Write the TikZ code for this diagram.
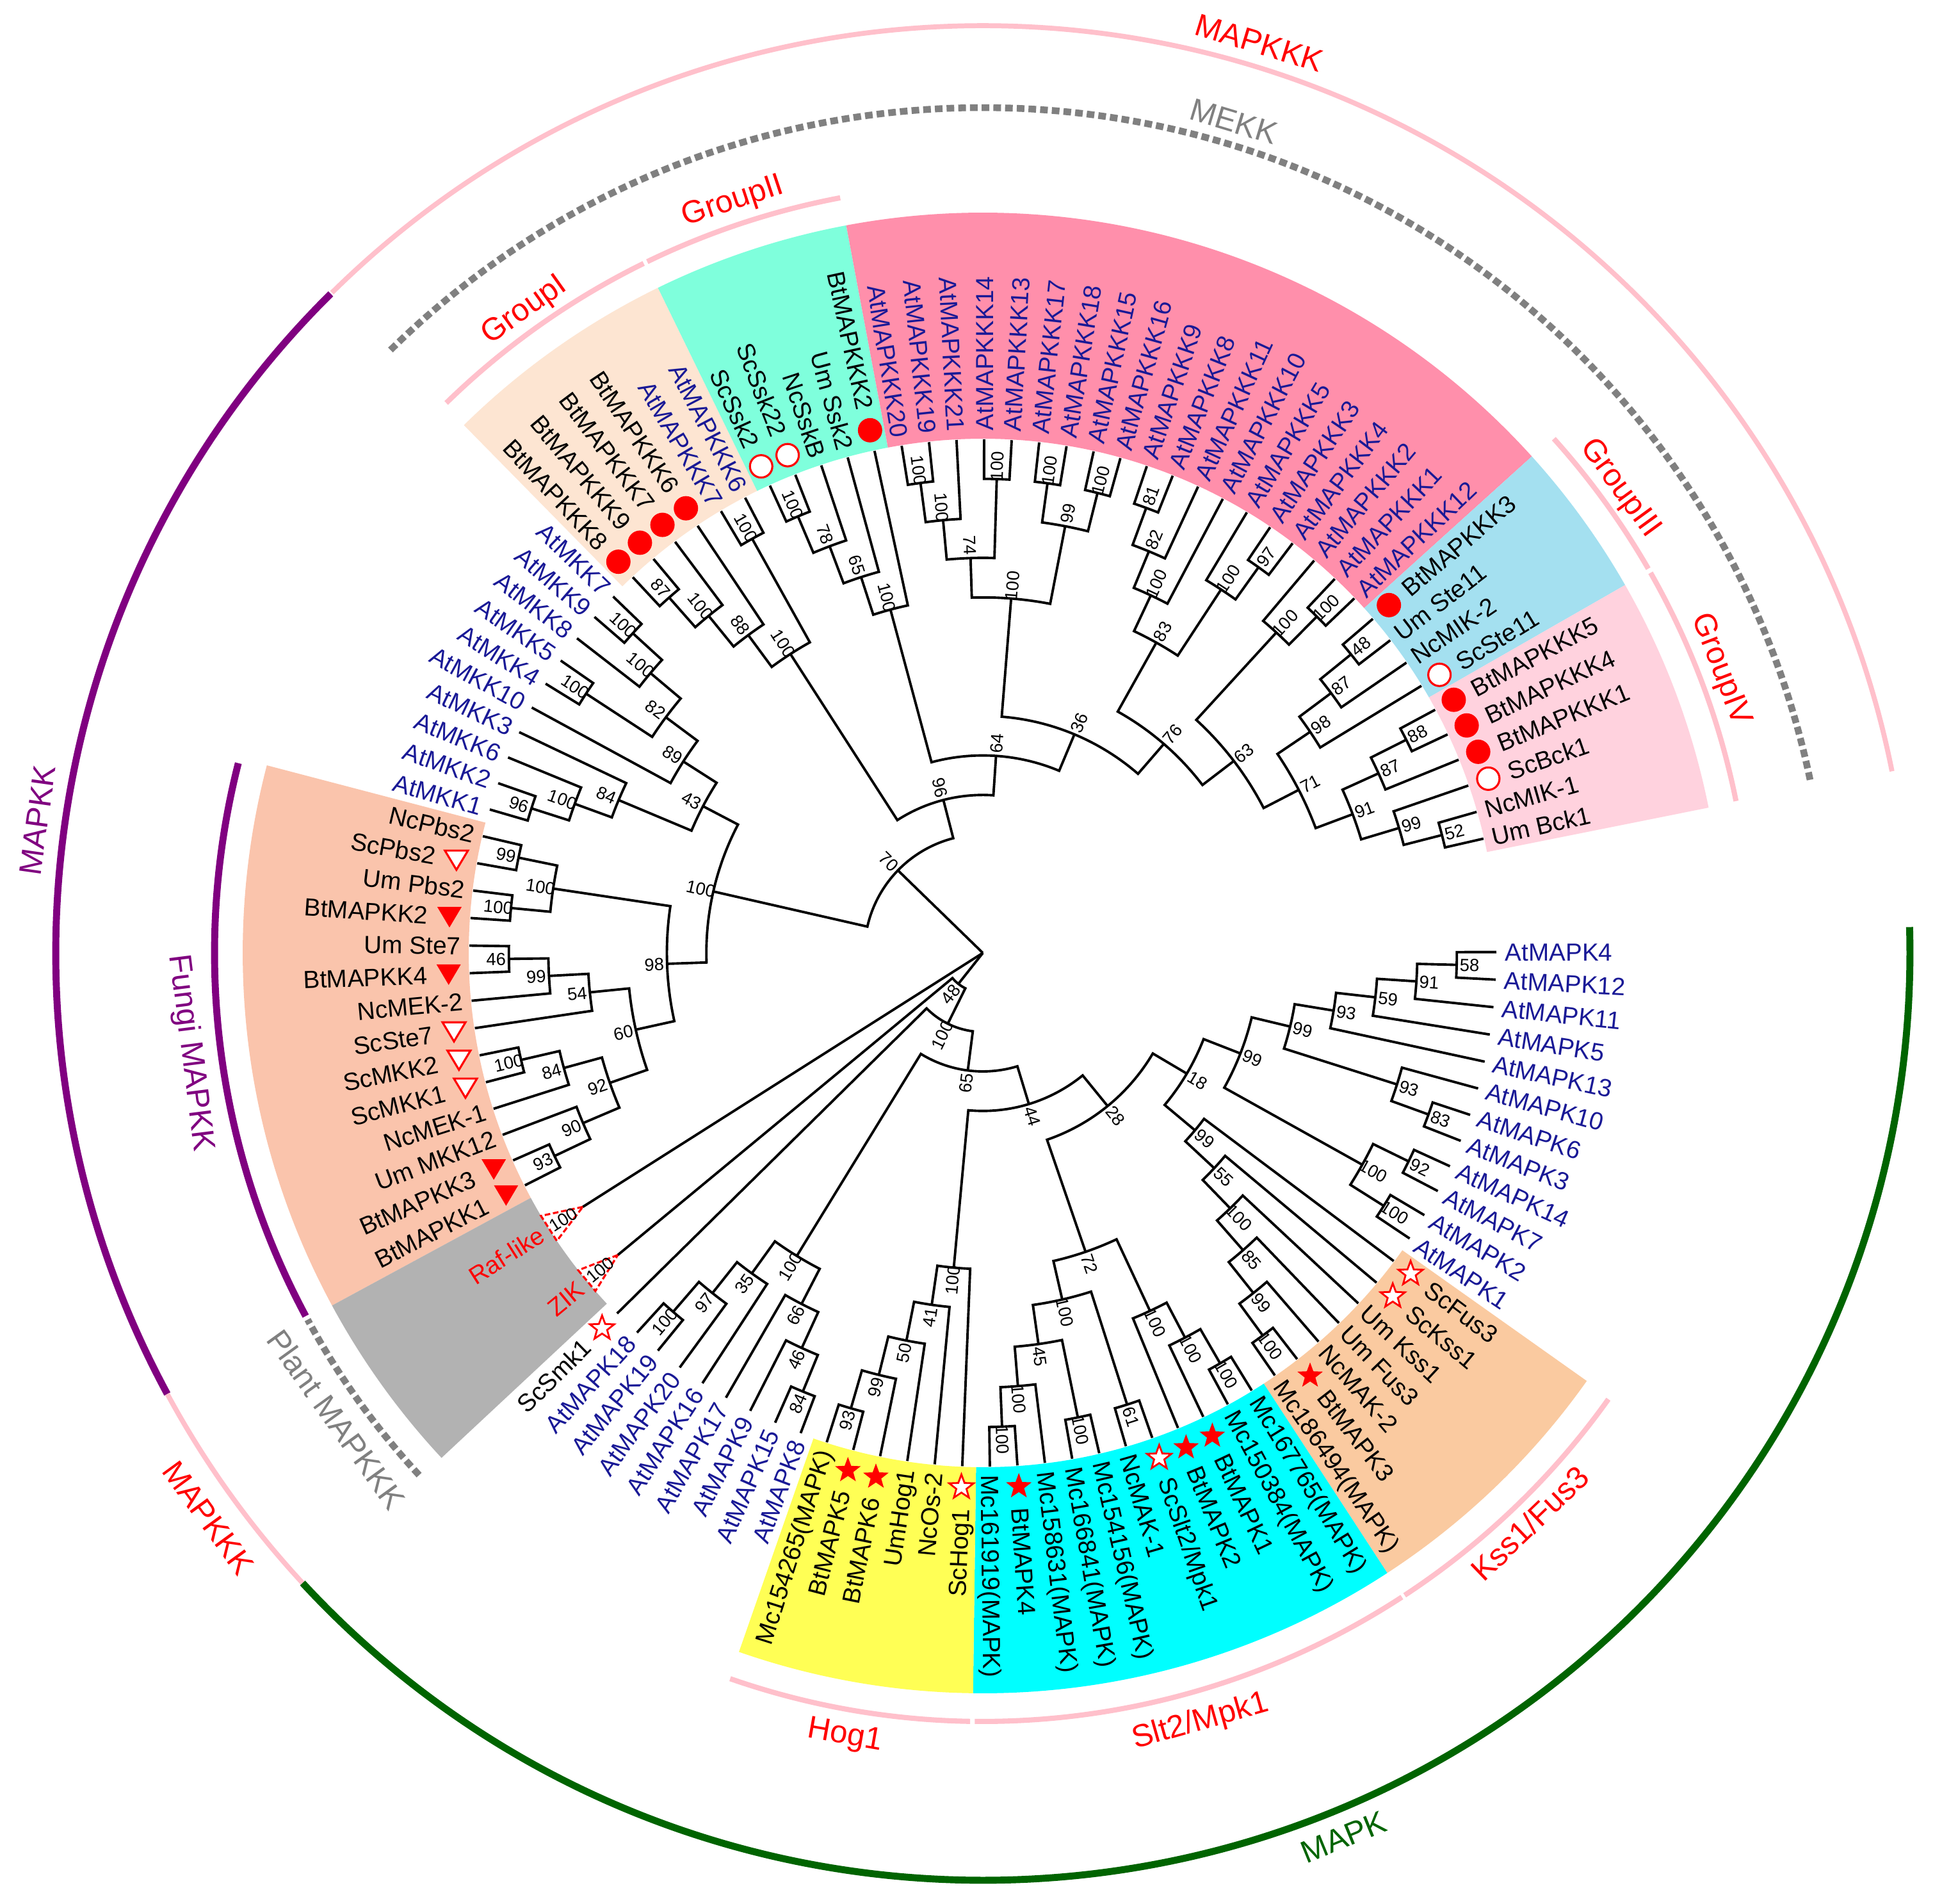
\documentclass[tikz,border=0pt]{standalone}
\usepackage{fontspec}
\setmainfont{Liberation Sans}
\usetikzlibrary{shapes.geometric}
\definecolor{atblue}{RGB}{25,25,150}
\definecolor{cGI}{RGB}{253,229,210}
\definecolor{cGII}{RGB}{127,255,220}
\definecolor{cPink}{RGB}{255,143,171}
\definecolor{cGIII}{RGB}{164,224,240}
\definecolor{cGIV}{RGB}{255,210,222}
\definecolor{cFun}{RGB}{250,196,172}
\definecolor{cGray}{RGB}{178,178,178}
\definecolor{cKss}{RGB}{250,202,160}
\definecolor{cSlt}{RGB}{0,255,255}
\definecolor{cHog}{RGB}{255,255,85}
\definecolor{pinkarc}{RGB}{255,192,203}
\definecolor{dgreen}{RGB}{0,100,0}
\definecolor{purp}{RGB}{128,0,128}
\definecolor{dgray}{RGB}{128,128,128}

\tikzset{
  br/.style={line width=1.1pt,black,line join=miter},
  bs/.style={font=\fontsize{7.8}{9}\selectfont,inner sep=0pt,text height=5.6pt,text depth=0pt},
  lf/.style={font=\fontsize{11}{13}\selectfont,inner sep=0pt,text height=8pt,text depth=0pt},
  ol/.style={font=\fontsize{14}{16}\selectfont,inner sep=0pt},
  grparc/.style={pinkarc,line width=2.3pt},
  dasharc/.style={dgray,line width=3pt,dash pattern=on 3.4pt off 1.8pt},
  collapsed/.style={red,line width=0.9pt,dash pattern=on 2.5pt off 1.2pt}
}

% bootstrap label: angle, radius, text
\newcommand\bsl[3]{%
  \pgfmathsetmacro\bang{#1}%
  \pgfmathsetmacro\bnang{mod(\bang+720,360)}%
  \pgfmathsetmacro\brot{ifthenelse(and(\bnang>90,\bnang<270),\bnang+180,\bnang)}%
  \node[bs,rotate=\brot] at (\bang:{#2}) {#3};}

% clade: height, angle1, height1, angle2, height2, bootstrap
\newcommand\clade[6]{%
  \draw[br] (#2:{8.02-0.617*#3}) -- (#2:{8.02-0.617*#1})
    arc[start angle=#2,end angle=#4,radius={8.02-0.617*#1}] -- (#4:{8.02-0.617*#5});
  \bsl{(#2+#4)/2}{8.02-0.617*#1+0.2}{#6}}

% marker: type, angle
\newcommand\lmarker[2]{%
  \ifcase#1\relax
  \or \fill[red] (#2:8.35) circle (0.19);%
  \or \draw[red,line width=0.9pt,fill=white] (#2:8.35) circle (0.175);%
  \or \fill[red,shift={(#2:8.35)}] (-0.19,0.15) -- (0.19,0.15) -- (0,-0.17) -- cycle;%
  \or \draw[red,line width=0.9pt,fill=white,shift={(#2:8.35)}] (-0.18,0.14) -- (0.18,0.14) -- (0,-0.16) -- cycle;%
  \or \node[star,star points=5,star point ratio=2.4,fill=red,minimum size=0.42cm,inner sep=0pt] at (#2:8.35) {};%
  \or \node[star,star points=5,star point ratio=2.4,draw=red,fill=white,line width=0.8pt,minimum size=0.40cm,inner sep=0pt] at (#2:8.35) {};%
  \fi}

% leaf: angle, text, colour, marker
\newcommand\leaf[4]{%
  \pgfmathsetmacro\lnang{mod(#1+720,360)}%
  \pgfmathtruncatemacro\lleft{and(\lnang>90,\lnang<270)}%
  \ifnum#4=0 \def\lrs{8.15}\else\def\lrs{8.68}\fi
  \ifnum\lleft=1
    \node[lf,text=#3,anchor=east,rotate=\lnang+180] at (#1:\lrs) {#2};%
  \else
    \node[lf,text=#3,anchor=west,rotate=\lnang] at (#1:\lrs) {#2};%
  \fi
  \lmarker{#4}{#1}}

% sector: colour, a1, a2
\newcommand\sector[3]{%
  \fill[#1] (#2:8.03) arc[start angle=#2,end angle=#3,radius=8.03]
    -- (#3:11.56) arc[start angle=#3,end angle=#2,radius=11.56] -- cycle;}

% ring arc: style, a1, a2, radius
\newcommand\ringarc[4]{\draw[#1] (#2:#4) arc[start angle=#2,end angle=#3,radius=#4];}

% outer label: angle, radius, text, colour
\newcommand\olab[4]{%
  \pgfmathsetmacro\onang{mod(#1+720,360)}%
  \pgfmathsetmacro\orot{ifthenelse(\onang<180,\onang-90,\onang+90)}%
  \node[ol,text=#4,rotate=\orot] at (#1:#2) {#3};}

\begin{document}
\begin{tikzpicture}[x=1cm,y=1cm]
\useasboundingbox (0,0) rectangle (30.33,29.72);
\fill[white] (0,0) rectangle (30.33,29.72);
\begin{scope}[shift={(15.35,14.84)}]

% ---------- coloured sectors ----------
\sector{cGI}{-225.48}{-243.96}
\sector{cGII}{-243.96}{-259.36}
\sector{cPink}{-259.36}{-317.88}
\sector{cGIII}{-317.88}{-330.20}
\sector{cGIV}{-330.20}{-348.68}
\sector{cFun}{-151.56}{-194.68}
\sector{cGray}{-137.00}{-151.56}
\sector{cKss}{-35.32}{-56.88}
\sector{cSlt}{-56.88}{-90.76}
\sector{cHog}{-90.76}{-109.24}

% ---------- outer arcs ----------
\ringarc{grparc}{-225.7}{-243.8}{12.0}
\ringarc{grparc}{-244.1}{-259.3}{12.0}
\ringarc{grparc}{-318.0}{-330.0}{12.0}
\ringarc{grparc}{-330.35}{-348.6}{12.0}
\ringarc{grparc}{-90.95}{-109.2}{12.0}
\ringarc{grparc}{-35.5}{-56.7}{12.0}
\ringarc{grparc}{-56.95}{-90.6}{12.0}
\ringarc{purp,line width=3.1pt}{-151.8}{-194.3}{12.0}
\ringarc{dasharc}{-137.2}{-151.5}{12.0}
\ringarc{dasharc}{-225.5}{-348.3}{13.2}
\ringarc{pinkarc,line width=2.2pt}{-225.4}{-348.7}{14.48}
\ringarc{purp,line width=3.1pt}{-151.6}{-225.3}{14.48}
\ringarc{pinkarc,line width=2.2pt}{-137.2}{-151.6}{14.48}
\ringarc{dgreen,line width=3.1pt}{-137.2}{1.6}{14.48}

% ---------- outer labels ----------
\olab{73.1}{14.85}{MAPKKK}{red}
\olab{73.2}{13.56}{MEKK}{dgray}
\olab{125.5}{12.32}{GroupI}{red}
\olab{108.4}{12.36}{GroupII}{red}
\olab{36.1}{12.31}{GroupIII}{red}
\olab{21.0}{12.34}{GroupIV}{red}
\olab{-100.0}{12.42}{Hog1}{red}
\olab{-74.2}{12.48}{Slt2/Mpk1}{red}
\olab{-46.2}{12.34}{Kss1/Fus3}{red}
\olab{-144.2}{12.45}{Plant MAPKKK}{dgray}
\olab{-172.8}{12.48}{Fungi MAPKK}{purp}
\olab{172.0}{14.91}{MAPKK}{purp}
\olab{-143.9}{14.97}{MAPKKK}{red}
\olab{-67.8}{14.91}{MAPK}{dgreen}

% ---------- tree: MAPK side ----------
\clade{1}{0.10}{0}{-2.98}{0}{58}
\clade{2}{-1.44}{1}{-6.06}{0}{91}
\clade{3}{-3.75}{2}{-9.14}{0}{59}
\clade{4}{-6.445}{3}{-12.22}{0}{93}
\clade{1}{-18.38}{0}{-21.46}{0}{83}
\clade{2}{-15.30}{0}{-19.92}{1}{93}
\clade{5}{-9.3325}{4}{-17.61}{2}{99}
\clade{1}{-24.54}{0}{-27.62}{0}{92}
\clade{1}{-30.70}{0}{-33.78}{0}{100}
\clade{2}{-26.08}{1}{-32.24}{1}{100}
\clade{6}{-13.47}{5}{-29.16}{2}{99}
\clade{1}{-52.26}{0}{-55.34}{0}{100}
\clade{2}{-49.18}{0}{-53.80}{1}{99}
\clade{3}{-46.10}{0}{-51.49}{2}{85}
\clade{4}{-43.02}{0}{-48.795}{3}{100}
\clade{5}{-39.94}{0}{-45.9075}{4}{55}
\clade{6}{-36.86}{0}{-42.92}{5}{99}
\clade{7}{-21.315}{6}{-39.89}{6}{18}
\clade{1}{-58.42}{0}{-61.50}{0}{100}
\clade{2}{-59.96}{1}{-64.58}{0}{100}
\clade{3}{-62.27}{2}{-67.66}{0}{100}
\clade{1}{-70.74}{0}{-73.82}{0}{61}
\clade{1}{-76.90}{0}{-79.98}{0}{100}
\clade{1}{-86.14}{0}{-89.22}{0}{100}
\clade{2}{-83.06}{0}{-87.68}{1}{100}
\clade{3}{-78.44}{1}{-85.37}{2}{45}
\clade{4}{-72.28}{1}{-81.905}{3}{100}
\clade{5}{-64.965}{3}{-77.0925}{4}{72}
\clade{8}{-30.60}{7}{-71.03}{5}{28}
\clade{1}{-104.62}{0}{-107.70}{0}{93}
\clade{2}{-101.54}{0}{-106.16}{1}{99}
\clade{3}{-98.46}{0}{-103.85}{2}{50}
\clade{4}{-95.38}{0}{-101.155}{3}{41}
\clade{5}{-92.30}{0}{-98.2675}{4}{100}
\clade{9}{-50.815}{8}{-95.28}{5}{44}
\clade{1}{-110.78}{0}{-113.86}{0}{84}
\clade{2}{-112.32}{1}{-116.94}{0}{46}
\clade{3}{-114.63}{2}{-120.02}{0}{66}
\clade{1}{-129.26}{0}{-132.34}{0}{100}
\clade{2}{-126.18}{0}{-130.80}{1}{97}
\clade{3}{-123.10}{0}{-128.49}{2}{35}
\clade{4}{-117.325}{3}{-125.795}{3}{100}
\clade{10}{-73.05}{9}{-121.56}{4}{65}
\clade{11}{-97.305}{10}{-135.42}{0}{100}
\clade{12}{-116.36}{11}{-140.40}{1}{48}

% ---------- tree: MAPKK ----------
\clade{1}{-153.10}{0}{-156.18}{0}{93}
\clade{2}{-154.64}{1}{-159.26}{0}{90}
\clade{1}{-165.42}{0}{-168.50}{0}{100}
\clade{2}{-162.34}{0}{-166.96}{1}{84}
\clade{3}{-156.95}{2}{-164.65}{2}{92}
\clade{1}{-177.74}{0}{-180.82}{0}{46}
\clade{2}{-174.66}{0}{-179.28}{1}{99}
\clade{3}{-171.58}{0}{-176.97}{2}{54}
\clade{4}{-160.80}{3}{-174.275}{3}{60}
\clade{1}{-183.90}{0}{-186.98}{0}{100}
\clade{1}{-190.06}{0}{-193.14}{0}{99}
\clade{2}{-185.44}{1}{-191.60}{1}{100}
\clade{5}{-167.5375}{4}{-188.52}{2}{98}
\clade{1}{-196.22}{0}{-199.30}{0}{96}
\clade{2}{-197.76}{1}{-202.38}{0}{100}
\clade{3}{-200.07}{2}{-205.46}{0}{84}
\clade{1}{-211.62}{0}{-214.70}{0}{100}
\clade{1}{-220.86}{0}{-223.94}{0}{100}
\clade{2}{-217.78}{0}{-222.40}{1}{100}
\clade{3}{-213.16}{1}{-220.09}{2}{82}
\clade{4}{-208.54}{0}{-216.625}{3}{89}
\clade{5}{-202.765}{3}{-212.5825}{4}{43}
\clade{6}{-178.03}{5}{-207.67}{5}{100}

% ---------- tree: MAPKKK ----------
\clade{1}{-227.02}{0}{-230.10}{0}{87}
\clade{2}{-228.56}{1}{-233.18}{0}{100}
\clade{3}{-230.87}{2}{-236.26}{0}{88}
\clade{1}{-239.34}{0}{-242.42}{0}{100}
\clade{4}{-233.565}{3}{-240.88}{1}{100}
\clade{1}{-245.50}{0}{-248.58}{0}{100}
\clade{2}{-247.04}{1}{-251.66}{0}{78}
\clade{3}{-249.35}{2}{-254.74}{0}{65}
\clade{4}{-252.045}{3}{-257.82}{0}{100}
\clade{1}{-260.90}{0}{-263.98}{0}{100}
\clade{2}{-262.44}{1}{-267.06}{0}{100}
\clade{1}{-270.14}{0}{-273.22}{0}{100}
\clade{3}{-264.75}{2}{-271.68}{1}{74}
\clade{1}{-276.30}{0}{-279.38}{0}{100}
\clade{1}{-282.46}{0}{-285.54}{0}{100}
\clade{2}{-277.84}{1}{-284.00}{1}{99}
\clade{4}{-268.215}{3}{-280.92}{2}{100}
\clade{1}{-288.62}{0}{-291.70}{0}{81}
\clade{2}{-290.16}{1}{-294.78}{0}{82}
\clade{3}{-292.47}{2}{-297.86}{0}{100}
\clade{1}{-304.02}{0}{-307.10}{0}{97}
\clade{2}{-300.94}{0}{-305.56}{1}{100}
\clade{4}{-295.165}{3}{-303.25}{2}{83}
\clade{1}{-313.26}{0}{-316.34}{0}{100}
\clade{2}{-310.18}{0}{-314.80}{1}{100}
\clade{1}{-319.42}{0}{-322.50}{0}{48}
\clade{2}{-320.96}{1}{-325.58}{0}{87}
\clade{3}{-323.27}{2}{-328.66}{0}{98}
\clade{1}{-331.74}{0}{-334.82}{0}{88}
\clade{2}{-333.28}{1}{-337.90}{0}{87}
\clade{1}{-344.06}{0}{-347.14}{0}{52}
\clade{2}{-340.98}{0}{-345.60}{1}{99}
\clade{3}{-335.59}{2}{-343.29}{2}{91}
\clade{4}{-325.965}{3}{-339.44}{3}{71}
\clade{5}{-312.49}{2}{-332.7025}{4}{63}
\clade{6}{-299.2075}{4}{-322.596}{5}{76}
\clade{7}{-274.5675}{4}{-310.90}{6}{36}
\clade{8}{-254.9325}{4}{-292.73}{7}{64}
\clade{9}{-237.2225}{4}{-273.83}{8}{96}
\clade{10}{-192.85}{6}{-255.53}{9}{70}

% ---------- root ----------
\draw[br] (0,0) -- (-224.19:1.851);
\draw[br] (0,0) -- (-128.38:0.617);
\draw[br] (0,0) -- (-147.6:7.403);

% ---------- collapsed clades ----------
\draw[collapsed] (-147.6:7.40) -- (-149.25:8.03) -- (-145.95:8.03) -- cycle;
\draw[collapsed] (-140.4:7.40) -- (-141.9:8.03) -- (-138.9:8.03) -- cycle;
\bsl{-147.6}{7.76}{100}
\bsl{-140.4}{7.76}{100}
\leaf{-147.6}{Raf-like}{red}{0}
\leaf{-140.4}{ZIK}{red}{0}

% ---------- leaves ----------
\foreach \a/\t/\c/\m in {
 0.10/AtMAPK4/atblue/0, -2.98/AtMAPK12/atblue/0, -6.06/AtMAPK11/atblue/0,
 -9.14/AtMAPK5/atblue/0, -12.22/AtMAPK13/atblue/0, -15.30/AtMAPK10/atblue/0,
 -18.38/AtMAPK6/atblue/0, -21.46/AtMAPK3/atblue/0, -24.54/AtMAPK14/atblue/0,
 -27.62/AtMAPK7/atblue/0, -30.70/AtMAPK2/atblue/0, -33.78/AtMAPK1/atblue/0,
 -36.86/ScFus3/black/6, -39.94/ScKss1/black/6, -43.02/Um Kss1/black/0,
 -46.10/Um Fus3/black/0, -49.18/NcMAK-2/black/0, -52.26/BtMAPK3/black/5,
 -55.34/Mc186494(MAPK)/black/0, -58.42/Mc167765(MAPK)/black/0,
 -61.50/Mc150384(MAPK)/black/0, -64.58/BtMAPK1/black/5, -67.66/BtMAPK2/black/5,
 -73.82/NcMAK-1/black/0, -76.90/Mc154156(MAPK)/black/0,
 -79.98/Mc166841(MAPK)/black/0, -83.06/Mc158631(MAPK)/black/0,
 -86.14/BtMAPK4/black/5, -89.22/Mc161919(MAPK)/black/0,
 -92.30/ScHog1/black/6, -95.38/NcOs-2/black/0, -98.46/UmHog1/black/0,
 -101.54/BtMAPK6/black/5, -104.62/BtMAPK5/black/5, -107.70/Mc154265(MAPK)/black/0,
 -110.78/AtMAPK8/atblue/0, -113.86/AtMAPK15/atblue/0, -116.94/AtMAPK9/atblue/0,
 -120.02/AtMAPK17/atblue/0, -123.10/AtMAPK16/atblue/0, -126.18/AtMAPK20/atblue/0,
 -129.26/AtMAPK19/atblue/0, -132.34/AtMAPK18/atblue/0, -135.42/ScSmk1/black/6,
 -153.10/BtMAPKK1/black/3, -156.18/BtMAPKK3/black/3, -159.26/Um MKK12/black/0,
 -162.34/NcMEK-1/black/0, -165.42/ScMKK1/black/4, -168.50/ScMKK2/black/4,
 -171.58/ScSte7/black/4, -174.66/NcMEK-2/black/0, -177.74/BtMAPKK4/black/3,
 -180.82/Um Ste7/black/0, -183.90/BtMAPKK2/black/3, -186.98/Um Pbs2/black/0,
 -190.06/ScPbs2/black/4, -193.14/NcPbs2/black/0,
 -196.22/AtMKK1/atblue/0, -199.30/AtMKK2/atblue/0, -202.38/AtMKK6/atblue/0,
 -205.46/AtMKK3/atblue/0, -208.54/AtMKK10/atblue/0, -211.62/AtMKK4/atblue/0,
 -214.70/AtMKK5/atblue/0, -217.78/AtMKK8/atblue/0, -220.86/AtMKK9/atblue/0,
 -223.94/AtMKK7/atblue/0,
 -227.02/BtMAPKKK8/black/1, -230.10/BtMAPKKK9/black/1, -233.18/BtMAPKKK7/black/1,
 -236.26/BtMAPKKK6/black/1, -239.34/AtMAPKKK7/atblue/0, -242.42/AtMAPKKK6/atblue/0,
 -245.50/ScSsk2/black/2, -248.58/ScSsk22/black/2, -251.66/NcSskB/black/0,
 -254.74/Um Ssk2/black/0, -257.82/BtMAPKKK2/black/1,
 -260.90/AtMAPKKK20/atblue/0, -263.98/AtMAPKKK19/atblue/0, -267.06/AtMAPKKK21/atblue/0,
 -270.14/AtMAPKKK14/atblue/0, -273.22/AtMAPKKK13/atblue/0, -276.30/AtMAPKKK17/atblue/0,
 -279.38/AtMAPKKK18/atblue/0, -282.46/AtMAPKKK15/atblue/0, -285.54/AtMAPKKK16/atblue/0,
 -288.62/AtMAPKKK9/atblue/0, -291.70/AtMAPKKK8/atblue/0, -294.78/AtMAPKKK11/atblue/0,
 -297.86/AtMAPKKK10/atblue/0, -300.94/AtMAPKKK5/atblue/0, -304.02/AtMAPKKK3/atblue/0,
 -307.10/AtMAPKKK4/atblue/0, -310.18/AtMAPKKK2/atblue/0, -313.26/AtMAPKKK1/atblue/0,
 -316.34/AtMAPKKK12/atblue/0,
 -319.42/BtMAPKKK3/black/1, -322.50/Um Ste11/black/0, -325.58/NcMIK-2/black/0,
 -328.66/ScSte11/black/2, -331.74/BtMAPKKK5/black/1, -334.82/BtMAPKKK4/black/1,
 -337.90/BtMAPKKK1/black/1, -340.98/ScBck1/black/2, -344.06/NcMIK-1/black/0,
 -347.14/Um Bck1/black/0}
 {\leaf{\a}{\t}{\c}{\m}}
\leaf{-70.74}{ScSlt2/Mpk1}{black}{6}

\end{scope}
\end{tikzpicture}
\end{document}
